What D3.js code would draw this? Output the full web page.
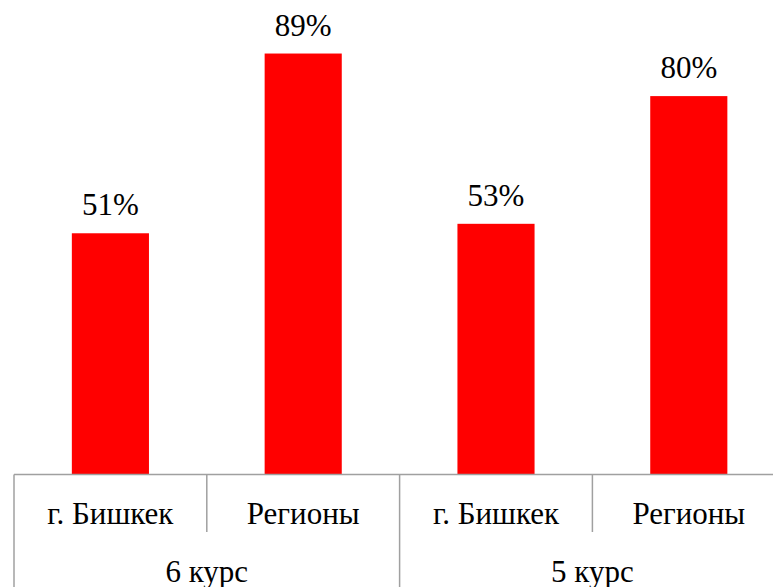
<!DOCTYPE html>
<html>
<head>
<meta charset="utf-8">
<script src="https://cdn.jsdelivr.net/npm/d3@7"></script>
</head>
<body style="margin:0">
<script>
// data
var categories = ["г. Бишкек", "Регионы", "г. Бишкек", "Регионы"];
var groups = ["6 курс", "6 курс", "5 курс", "5 курс"];
var groupNames = ["6 курс", "5 курс"];
var values = [51, 89, 53, 80];

var width = 773, height = 587;
var left = 14, right = 785.2, base = 474.5;
var fontSize = 31;

var svg = d3.select("body").append("svg")
    .attr("width", width)
    .attr("height", height);

var idx = d3.range(categories.length);

// bar positions
var x = d3.scaleBand()
    .domain(idx)
    .range([left, right])
    .paddingInner(0.6)
    .paddingOuter(0.3);

// cells for the category labels
var cell = d3.scaleBand()
    .domain(idx)
    .range([left, right]);

var y = d3.scaleLinear()
    .domain([0, 100])
    .range([base, 1.5]);

svg.selectAll(".bar")
    .data(idx)
  .enter().append("rect")
    .attr("class", "bar")
    .attr("x", function(i) { return x(i); })
    .attr("width", x.bandwidth())
    .attr("y", function(i) { return y(values[i]); })
    .attr("height", function(i) { return base - y(values[i]); })
    .attr("fill", "#ff0000");

svg.selectAll(".val")
    .data(idx)
  .enter().append("text")
    .attr("class", "val")
    .attr("x", function(i) { return x(i) + x.bandwidth() / 2; })
    .attr("y", function(i) { return y(values[i]) - 18; })
    .attr("text-anchor", "middle")
    .attr("font-family", "serif")
    .attr("font-size", fontSize)
    .text(function(i) { return values[i] + "%"; });

// axis line
var line = "#a0a0a0";
svg.append("line")
    .attr("x1", left).attr("x2", width)
    .attr("y1", base).attr("y2", base)
    .attr("stroke", line).attr("stroke-width", 1.5);

// separators: short ones between categories, long ones between groups
svg.selectAll(".sep")
    .data(idx)
  .enter().append("line")
    .attr("class", "sep")
    .attr("x1", function(i) { return cell(i); })
    .attr("x2", function(i) { return cell(i); })
    .attr("y1", base)
    .attr("y2", function(i) { return (i === 0 || groups[i] !== groups[i - 1]) ? height : 532; })
    .attr("stroke", line).attr("stroke-width", 1.5);

svg.selectAll(".cat")
    .data(idx)
  .enter().append("text")
    .attr("class", "cat")
    .attr("x", function(i) { return cell(i) + cell.bandwidth() / 2; })
    .attr("y", 524)
    .attr("text-anchor", "middle")
    .attr("font-family", "serif")
    .attr("font-size", fontSize)
    .text(function(i) { return categories[i]; });

svg.selectAll(".grp")
    .data(groupNames)
  .enter().append("text")
    .attr("class", "grp")
    .attr("x", function(g) {
      var members = idx.filter(function(i) { return groups[i] === g; });
      return (cell(members[0]) + cell(members[members.length - 1]) + cell.bandwidth()) / 2;
    })
    .attr("y", 582)
    .attr("text-anchor", "middle")
    .attr("font-family", "serif")
    .attr("font-size", fontSize)
    .text(function(g) { return g; });
</script>
</body>
</html>
